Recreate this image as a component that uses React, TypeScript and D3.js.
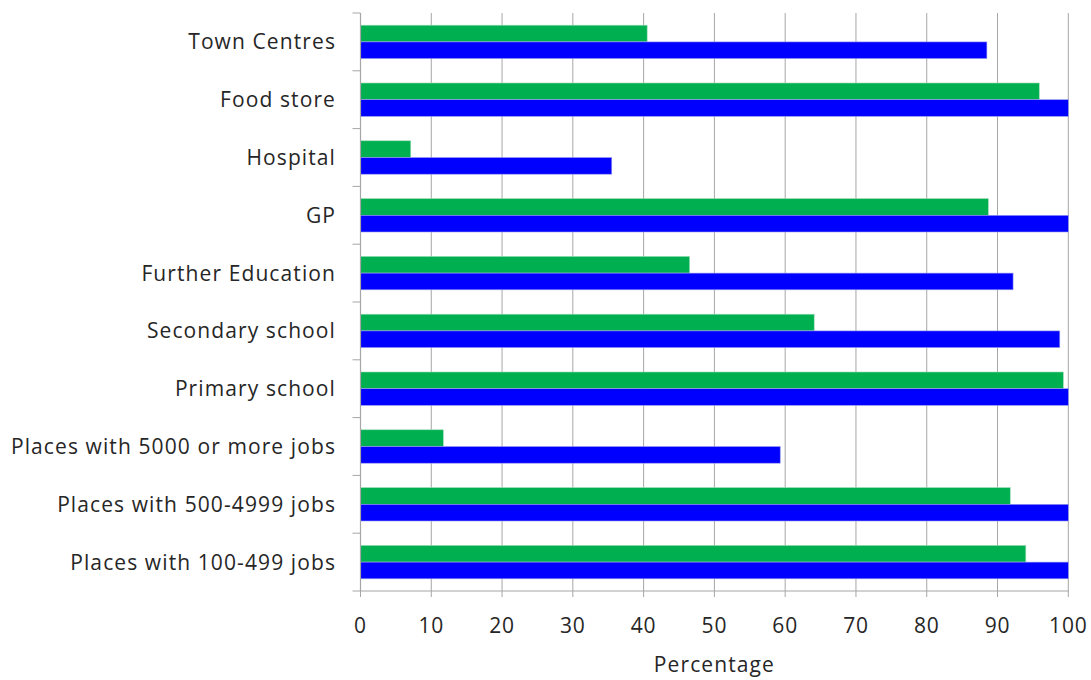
import React from "react";
import * as d3 from "d3";

const categories = [
  "Town Centres",
  "Food store",
  "Hospital",
  "GP",
  "Further Education",
  "Secondary school",
  "Primary school",
  "Places with 5000 or more jobs",
  "Places with 500-4999 jobs",
  "Places with 100-499 jobs",
];
const greenValues = [40.5, 95.9, 7.1, 88.7, 46.5, 64.1, 99.3, 11.7, 91.8, 94.0];
const blueValues = [88.5, 100, 35.5, 100, 92.2, 98.8, 100, 59.3, 100, 100];
const xTicks = [0, 10, 20, 30, 40, 50, 60, 70, 80, 90, 100];
const xTitle = "Percentage";

const W = 1091;
const H = 680;
const left = 360.5;
const right = 1068.3;
const top = 13;
const bottom = 591;
const FONT = "'Open Sans', Lato, sans-serif";

export default function App() {
  const x = d3.scaleLinear().domain([0, 100]).range([left, right]);
  const y = d3.scaleBand<string>().domain(categories).range([top, bottom]);
  const inner = d3
    .scaleBand<string>()
    .domain(["green", "blue"])
    .range([0, y.bandwidth()])
    .paddingOuter(0.73)
    .paddingInner(0);
  const grid = "#a6a6a6";
  return (
    <svg
      width={W}
      height={H}
      style={{ position: "absolute", left: 0, top: 0, background: "#fff" }}
    >
      {xTicks.map((t) => (
        <line
          key={"g" + t}
          x1={x(t)}
          x2={x(t)}
          y1={top}
          y2={bottom + 6}
          stroke={grid}
          strokeWidth={1}
        />
      ))}
      {categories.map((c, i) => (
        <g key={c}>
          <rect
            x={x(0)}
            y={(y(c) as number) + (inner("green") as number)}
            width={x(greenValues[i]) - x(0)}
            height={inner.bandwidth()}
            fill="#00B050"
            stroke="#9fdcb8"
            strokeWidth={0.6}
          />
          <rect
            x={x(0)}
            y={(y(c) as number) + (inner("blue") as number)}
            width={x(blueValues[i]) - x(0)}
            height={inner.bandwidth()}
            fill="#0000FF"
            stroke="#9f9ff0"
            strokeWidth={0.6}
          />
          <text
            x={336}
            y={(y(c) as number) + y.bandwidth() / 2 + 7.5}
            textAnchor="end"
            fontFamily={FONT}
            fontSize={21}
            letterSpacing={1.1}
            fill="#262626"
          >
            {c}
          </text>
        </g>
      ))}
      {d3.range(categories.length + 1).map((i) => {
        const yy = top + i * y.step();
        return (
          <line
            key={"yt" + i}
            x1={left - 8}
            x2={left}
            y1={yy}
            y2={yy}
            stroke={grid}
            strokeWidth={1}
          />
        );
      })}
      <line x1={left} x2={left} y1={top} y2={bottom} stroke={grid} strokeWidth={1.2} />
      <line x1={left} x2={right} y1={bottom} y2={bottom} stroke={grid} strokeWidth={1.2} />
      {xTicks.map((t) => (
        <text
          key={"xl" + t}
          x={x(t)}
          y={633}
          textAnchor="middle"
          fontFamily={FONT}
          fontSize={21}
          letterSpacing={0.8}
          fill="#262626"
        >
          {t}
        </text>
      ))}
      <text
        x={(left + right) / 2}
        y={672}
        textAnchor="middle"
        fontFamily={FONT}
        fontSize={21}
        letterSpacing={1.1}
        fill="#262626"
      >
        {xTitle}
      </text>
    </svg>
  );
}
